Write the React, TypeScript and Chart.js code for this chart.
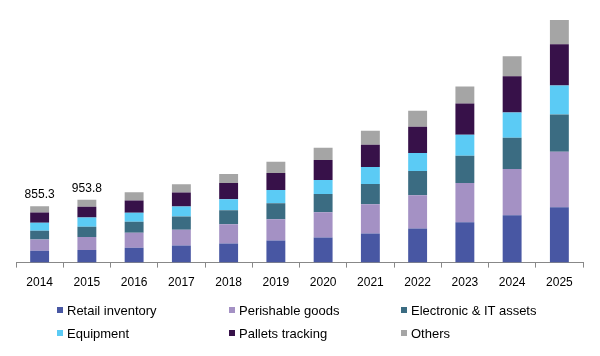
import React, { useEffect, useRef } from "react";
import { Chart, registerables } from "chart.js";

Chart.register(...registerables);

const years = ["2014", "2015", "2016", "2017", "2018", "2019", "2020", "2021", "2022", "2023", "2024", "2025"];
const seriesNames = ["Retail inventory", "Perishable goods", "Electronic & IT assets", "Equipment", "Pallets tracking", "Others"];
const seriesColors = ["#4857A3", "#A491C4", "#3B6C82", "#5BCBF5", "#371149", "#A5A5A5"];

const retail = [178.5, 193, 224, 260, 290, 336, 382, 443, 519, 611, 718, 840];
const perishable = [172.5, 197, 229, 240, 290, 321, 382, 443, 504, 596, 702, 840];
const electronic = [133, 152, 168, 198, 214, 244, 275, 305, 366, 412, 473, 565];
const equipment = [122, 141, 137, 153, 168, 199, 214, 260, 275, 321, 382, 443];
const pallets = [153, 164, 183, 214, 244, 260, 305, 336, 397, 473, 550, 626];
const others = [96.3, 106.8, 127, 122, 137, 168, 183, 214, 244, 260, 305, 366];
const totalLabels = ["855.3", "953.8", "", "", "", "", "", "", "", "", "", ""];

const seriesValues = [retail, perishable, electronic, equipment, pallets, others];

const FONT = "'Liberation Sans', Arial, sans-serif";

const totalsPlugin = {
  id: "totalsPlugin",
  afterDatasetsDraw(chart: any) {
    const meta = chart.getDatasetMeta(chart.data.datasets.length - 1);
    const ctx = chart.ctx;
    ctx.save();
    ctx.font = "12px " + FONT;
    ctx.fillStyle = "#000";
    ctx.textAlign = "center";
    ctx.textBaseline = "alphabetic";
    meta.data.forEach((bar: any, i: number) => {
      const t = totalLabels[i];
      if (t) ctx.fillText(t, bar.x, bar.y - 8);
    });
    ctx.restore();
  },
};

export default function App() {
  const ref = useRef<HTMLCanvasElement>(null);
  useEffect(() => {
    if (!ref.current) return;
    const chart = new Chart(ref.current, {
      type: "bar",
      data: {
        labels: years,
        datasets: seriesNames.map((name, i) => ({
          label: name,
          data: seriesValues[i],
          backgroundColor: seriesColors[i],
          borderWidth: 0,
          barPercentage: 0.4,
          categoryPercentage: 1,
        })),
      },
      options: {
        responsive: false,
        animation: false,
        layout: { padding: { top: 20, left: 16, right: 17, bottom: 58 } },
        plugins: { legend: { display: false }, tooltip: { enabled: false } },
        scales: {
          x: {
            stacked: true,
            grid: { display: true, drawOnChartArea: false, drawTicks: true, tickLength: 5, color: "#888", offset: true },
            border: { display: true, color: "#888", width: 1 },
            ticks: { color: "#000", font: { family: FONT, size: 12 }, padding: 8, maxRotation: 0 },
          },
          y: { stacked: true, display: false, min: 0, max: 3680 },
        },
      },
      plugins: [totalsPlugin],
    });
    return () => chart.destroy();
  }, []);

  const colX = [57, 229, 401];
  const rowY = [310, 333];
  return (
    <div style={{ position: "absolute", left: 0, top: 0, width: 600, height: 356, background: "#fff" }}>
      <canvas ref={ref} width={600} height={356} style={{ display: "block" }} />
      {seriesNames.map((name, i) => {
        const c = i % 3;
        const r = Math.floor(i / 3);
        return (
          <div
            key={name}
            style={{
              position: "absolute",
              left: colX[c],
              top: rowY[r] - 8,
              height: 16,
              display: "flex",
              alignItems: "center",
              font: "13px " + FONT,
              color: "#000",
              whiteSpace: "nowrap",
            }}
          >
            <span style={{ display: "inline-block", width: 6, height: 6, background: seriesColors[i], marginRight: 4 }} />
            <span>{name}</span>
          </div>
        );
      })}
    </div>
  );
}
